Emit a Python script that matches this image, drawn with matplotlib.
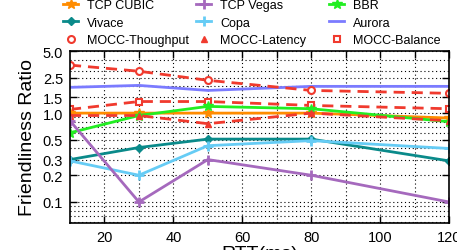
import numpy as np
from matplotlib import pyplot as plt
from matplotlib.lines import Line2D
from matplotlib.ticker import FixedLocator, LogLocator, NullFormatter

plt.rcParams['font.family'] = ['Liberation Sans', 'DejaVu Sans']

rtt = [10, 30, 50, 80, 120]

cubic = [1.0, 1.0, 1.0, 1.0, 0.88]
vegas = [0.82, 0.1, 0.3, 0.2, 0.1]
bbr = [0.6, 0.94, 1.19, 1.12, 0.8]
vivace = [0.3, 0.41, 0.51, 0.51, 0.29]
copa = [0.29, 0.2, 0.43, 0.49, 0.4]
aurora = [1.95, 2.05, 1.8, 2.0, 2.0]
mocc_thr = [3.47, 2.96, 2.34, 1.8, 1.67]
mocc_lat = [0.94, 0.94, 0.76, 1.0, 0.82]
mocc_bal = [1.1, 1.35, 1.35, 1.22, 1.12]

yticks = [0.1, 0.2, 0.3, 0.5, 1.0, 1.5, 2.5, 5.0]
xticks = [20, 40, 60, 80, 100, 120]

red = '#f03a2e'
fig = plt.figure(figsize=(4.57, 2.51), dpi=100)
ax = fig.add_axes([70/457, 1-224/251, 379/457, 172/251])

ax.plot(rtt, aurora, color='#7b7bff', lw=2)
ax.plot(rtt, mocc_thr, color=red, lw=2, ls=(0, (4, 2.5)), marker='o', ms=5,
        mfc='white', mec=red, mew=1.5)
ax.plot(rtt, mocc_bal, color=red, lw=2, ls=(0, (4, 2.5)), marker='s', ms=5,
        mfc='white', mec=red, mew=1.5)
ax.plot(rtt, cubic, color='#ff8c00', lw=2, marker='*', ms=7)
ax.plot(rtt, bbr, color='#22ee22', lw=2, marker='*', ms=7)
ax.plot(rtt, mocc_lat, color=red, lw=2, ls=(0, (4, 2.5)), marker='^', ms=5)
ax.plot(rtt, vivace, color='#0a8a8a', lw=2, marker='D', ms=4)
ax.plot(rtt, copa, color='#66ccf5', lw=2, marker='+', ms=7, mew=2)
ax.plot(rtt, vegas, color='#a569bd', lw=2, marker='+', ms=7, mew=2)

ax.set_yscale('log')
ax.set_ylim(0.058, 5.0)
ax.set_xlim(10, 120)
ax.yaxis.set_major_locator(FixedLocator(yticks))
ax.set_yticklabels(['%.1f' % v for v in yticks])
ax.yaxis.set_minor_locator(LogLocator(subs=np.arange(2, 10)))
ax.yaxis.set_minor_formatter(NullFormatter())
ax.set_xticks(xticks)
ax.set_xticks([30, 50, 70, 90, 110], minor=True)
ax.tick_params(which='both', direction='in', top=True, right=True, labelsize=10.5,
               length=5, width=1, pad=5)
ax.tick_params(axis='y', which='minor', length=0)
ax.tick_params(axis='x', which='minor', length=5, bottom=False)
ax.grid(True, which='both', ls=(0, (1, 2.5)), color='black', lw=0.8)
for s in ax.spines.values():
    s.set_linewidth(1.2)

ax.set_ylabel('Friendliness Ratio', fontsize=14, labelpad=5)
ax.set_xlabel('RTT(ms)', fontsize=14, labelpad=1)

handles = [
    Line2D([], [], color='#ff8c00', lw=2, marker='*', ms=7),
    Line2D([], [], color='#0a8a8a', lw=2, marker='D', ms=4),
    Line2D([], [], ls='none', color=red, marker='o', ms=5, mfc='white', mew=1.5),
    Line2D([], [], color='#a569bd', lw=2, marker='+', ms=7, mew=2),
    Line2D([], [], color='#66ccf5', lw=2, marker='+', ms=7, mew=2),
    Line2D([], [], ls='none', color=red, marker='^', ms=5),
    Line2D([], [], color='#22ee22', lw=2, marker='*', ms=7),
    Line2D([], [], color='#7b7bff', lw=2),
    Line2D([], [], ls='none', color=red, marker='s', ms=5, mfc='white', mew=1.5),
]
labels = ['TCP CUBIC', 'Vivace', 'MOCC-Thoughput',
          'TCP Vegas', 'Copa', 'MOCC-Latency',
          'BBR', 'Aurora', 'MOCC-Balance']
col_x = [63, 196, 329]
for c in range(3):
    fig.legend(handles[3*c:3*c+3], labels[3*c:3*c+3], loc='upper left',
               bbox_to_anchor=(col_x[c]/457, 1.0), frameon=False, fontsize=9,
               handlelength=1.2, handletextpad=0.75, labelspacing=0.45,
               borderpad=0, borderaxespad=0)

fig.savefig('out.png', dpi=100)
